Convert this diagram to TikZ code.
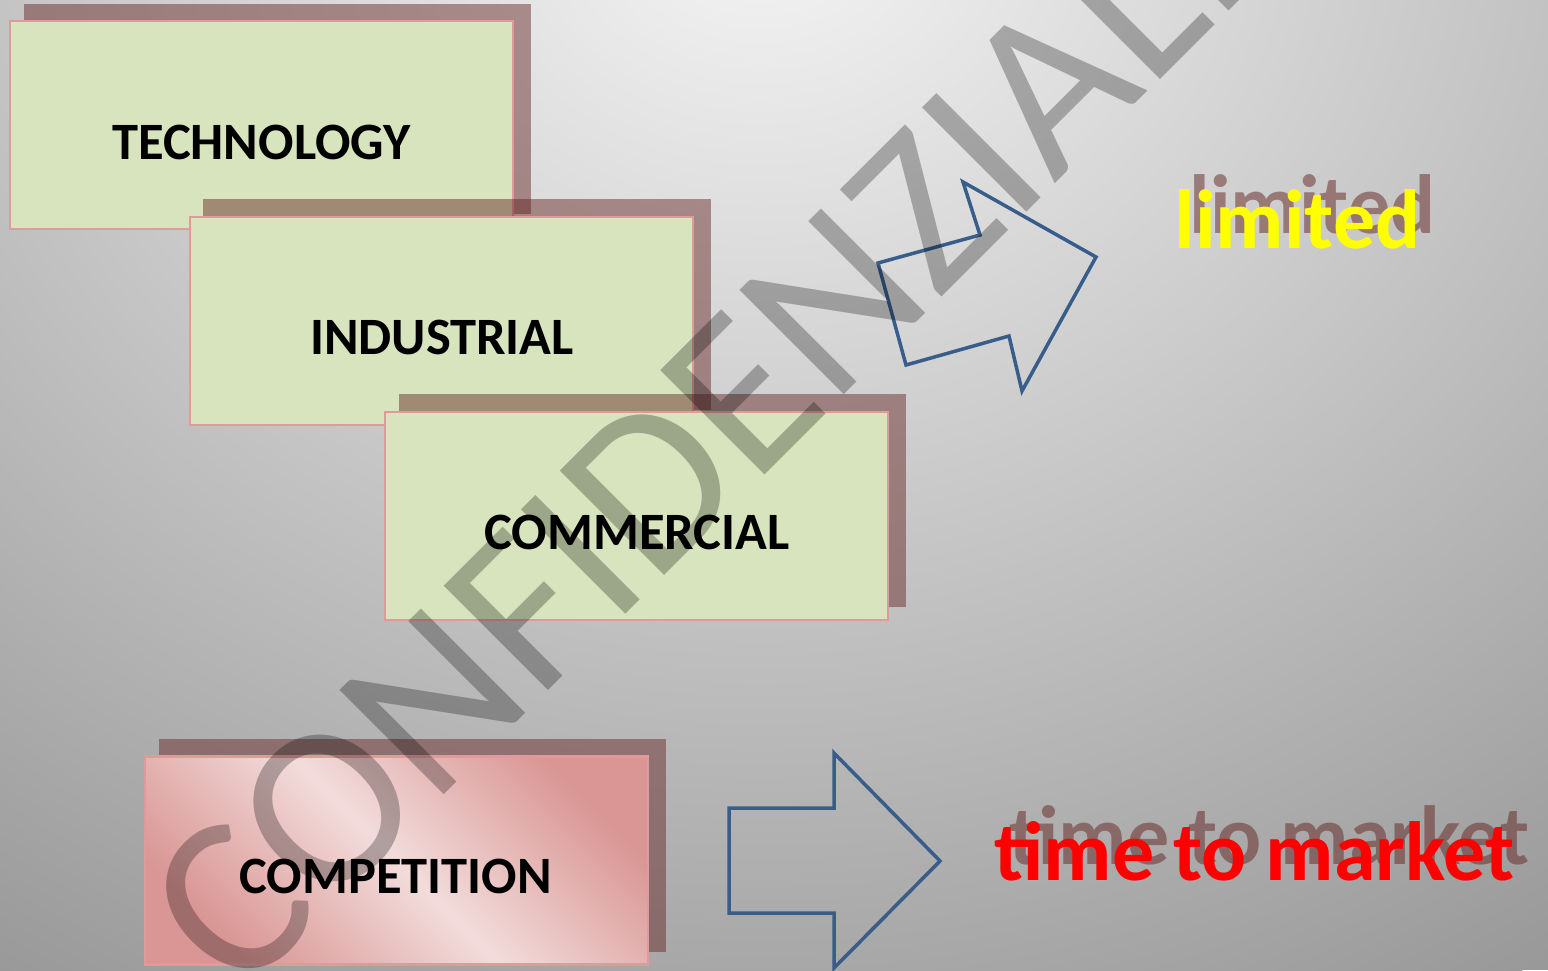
\documentclass[tikz,border=0pt]{standalone}
\usepackage{fontspec}
\setmainfont{Carlito}
\definecolor{bgin}{HTML}{F6F6F6}
\definecolor{bgout}{HTML}{999999}
\definecolor{boxfill}{HTML}{D7E4BD}
\definecolor{boxline}{HTML}{E09A9A}
\definecolor{shadowc}{HTML}{632523}
\definecolor{arrowc}{HTML}{385D8A}
\definecolor{pinkdark}{HTML}{D99694}
\definecolor{pinklight}{HTML}{F2DCDB}
\definecolor{yel}{HTML}{FFFF00}
\definecolor{redt}{HTML}{FF0000}
\tikzset{
  stage/.style={draw=boxline, line width=2.8pt, fill=boxfill, minimum width=503pt, minimum height=208pt, inner sep=0pt},
  pinkstage/.style={draw=boxline, line width=2.8pt, top color=pinkdark, bottom color=pinkdark, middle color=pinklight, shading angle=-45, minimum width=503pt, minimum height=208pt, inner sep=0pt},
  shad/.style={fill=shadowc, fill opacity=0.47},
  lbl/.style={font=\bfseries\fontsize{52.5}{60}\selectfont, anchor=base, inner sep=0pt, text=black},
  bigtxt/.style={font=\bfseries\fontsize{84}{90}\selectfont, anchor=base, inner sep=0pt},
  txtshadow/.style={bigtxt, text=shadowc, text opacity=0.5},
  blockarrow/.style={draw=arrowc, line width=3.5pt, line join=miter},
  watermark/.style={font=\fontsize{230}{240}\selectfont, text=black, text opacity=0.27, inner sep=0pt, rotate=45}
}
\begin{document}
\begin{tikzpicture}[x=1pt,y=-1pt]
\useasboundingbox (0,0) rectangle (1548,970);
\begin{scope}
\clip (0,0) rectangle (1548,970);
\fill[bgout] (0,0) rectangle (1548,970);
\shade[inner color=bgin, outer color=bgout] (760,-100) ellipse (1430 and 1265);

% TECHNOLOGY
\fill[shad] (24,4) rectangle (531,214);
\node[stage] (tech) at (261.5,125) {};
\node[lbl] (techl) at (261.5,159) {TECHNOLOGY};
% INDUSTRIAL
\fill[shad] (203,199) rectangle (711,410);
\node[stage] (ind) at (441.5,321) {};
\node[lbl] (indl) at (442,354) {INDUSTRIAL};
% COMMERCIAL
\fill[shad] (399,394) rectangle (906,607);
\node[stage] (com) at (636.5,516) {};
\node[lbl] (coml) at (637,549) {COMMERCIAL};
% COMPETITION
\fill[shad] (159,739) rectangle (666,952);
\node[pinkstage] (cmp) at (396.5,860.5) {};
\node[lbl] (cmpl) at (395.5,893) {COMPETITION};

% arrows
\draw[blockarrow] (729,808) -- (834,808) -- (834,753) -- (940,861) -- (834,968) -- (834,913) -- (729,913) -- cycle;
\draw[blockarrow] (878,263) -- (980,235) -- (963,182) -- (1096,257) -- (1022,391) -- (1009,336) -- (906,365) -- cycle;

% texts
\node[txtshadow] (lims) at (1312.5,233) {limited};
\node[bigtxt, text=yel] (lim) at (1297.5,248) {limited};
\node[txtshadow] (ttms) at (1269.5,864) {time to market};
\node[bigtxt, text=redt] (ttm) at (1254.5,880) {time to market};

% watermark
\node[watermark] (wm) at (716,419) {CONFIDENZIALE};
\end{scope}
\end{tikzpicture}
\end{document}
